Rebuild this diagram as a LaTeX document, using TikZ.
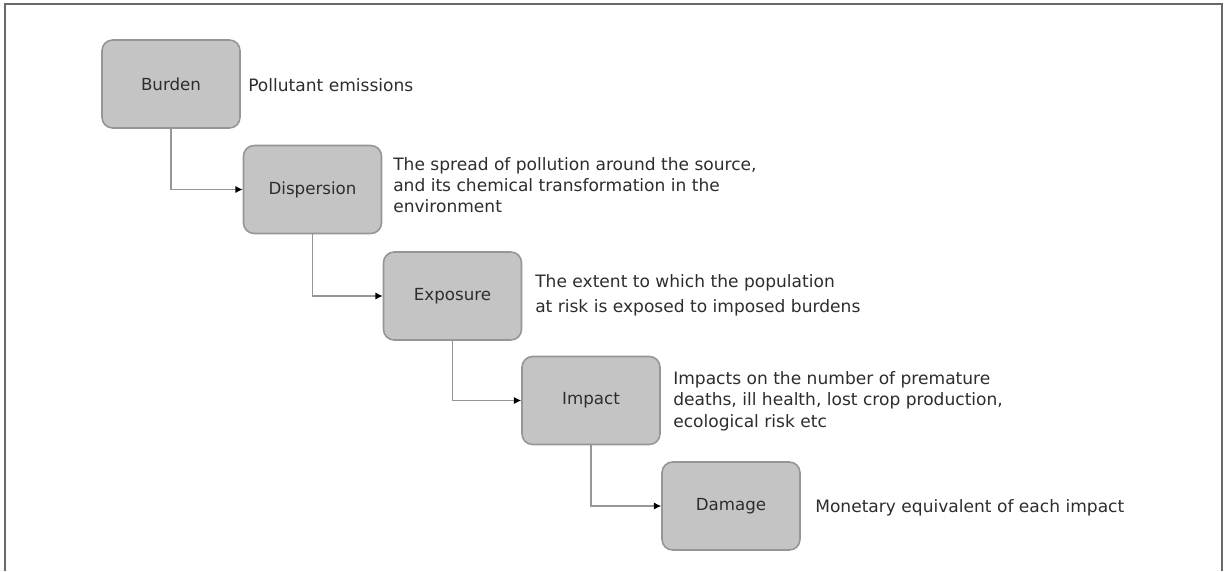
\documentclass[tikz,border=0pt]{standalone}
\usepackage{fontspec}
\setmainfont{DejaVu Sans}
\usetikzlibrary{arrows.meta}
\definecolor{boxfill}{RGB}{196,196,196}
\definecolor{boxline}{RGB}{150,150,150}
\definecolor{conn}{RGB}{150,150,150}
\definecolor{frame}{RGB}{105,105,105}
\definecolor{txt}{RGB}{45,45,45}
\begin{document}
\begin{tikzpicture}[x=0.75pt,y=-0.75pt,
  stage/.style={draw=boxline, line width=1.2pt, fill=boxfill, rounded corners=8pt,
    minimum width=103.5pt, minimum height=66pt, inner sep=0pt, font=\fontsize{12.5}{14}\selectfont, text=txt},
  desc/.style={anchor=west, inner sep=0pt, align=left, text=txt},
  link/.style={draw=conn, line width=1pt, -{Latex[length=5.5pt,width=5.5pt,color=black]}}
]
\useasboundingbox (0,0) rectangle (1226,571);
\draw[frame, line width=1.5pt] (5,571) -- (5,4) -- (1222,4) -- (1222,571);

\node[stage] (burden) at (171,84) {Burden};
\node[stage] (dispersion) at (312.5,189.5) {Dispersion};
\node[stage] (exposure) at (452.5,296) {Exposure};
\node[stage] (impact) at (591,400.5) {Impact};
\node[stage] (damage) at (731,506) {Damage};

\node[desc, font=\fontsize{12.8}{16}\selectfont] (t1) at (248,85) {Pollutant emissions};
\node[desc, font=\fontsize{12.8}{16}\selectfont] (t2) at (393,185) {The spread of pollution around the source,\\and its chemical transformation in the\\environment};
\node[desc, font=\fontsize{12.8}{18.5}\selectfont] (t3) at (535,295) {The extent to which the population\\at risk is exposed to imposed burdens};
\node[desc, font=\fontsize{12.8}{16}\selectfont] (t4) at (673,401) {Impacts on the number of premature\\deaths, ill health, lost crop production,\\ecological risk etc};
\node[desc, font=\fontsize{12.8}{16}\selectfont] (t5) at (815,508) {Monetary equivalent of each impact};

\draw[link] (burden.south) |- (dispersion.west);
\draw[link] (dispersion.south) |- (exposure.west);
\draw[link] (exposure.south) |- (impact.west);
\draw[link] (impact.south) |- (damage.west);
\end{tikzpicture}
\end{document}
